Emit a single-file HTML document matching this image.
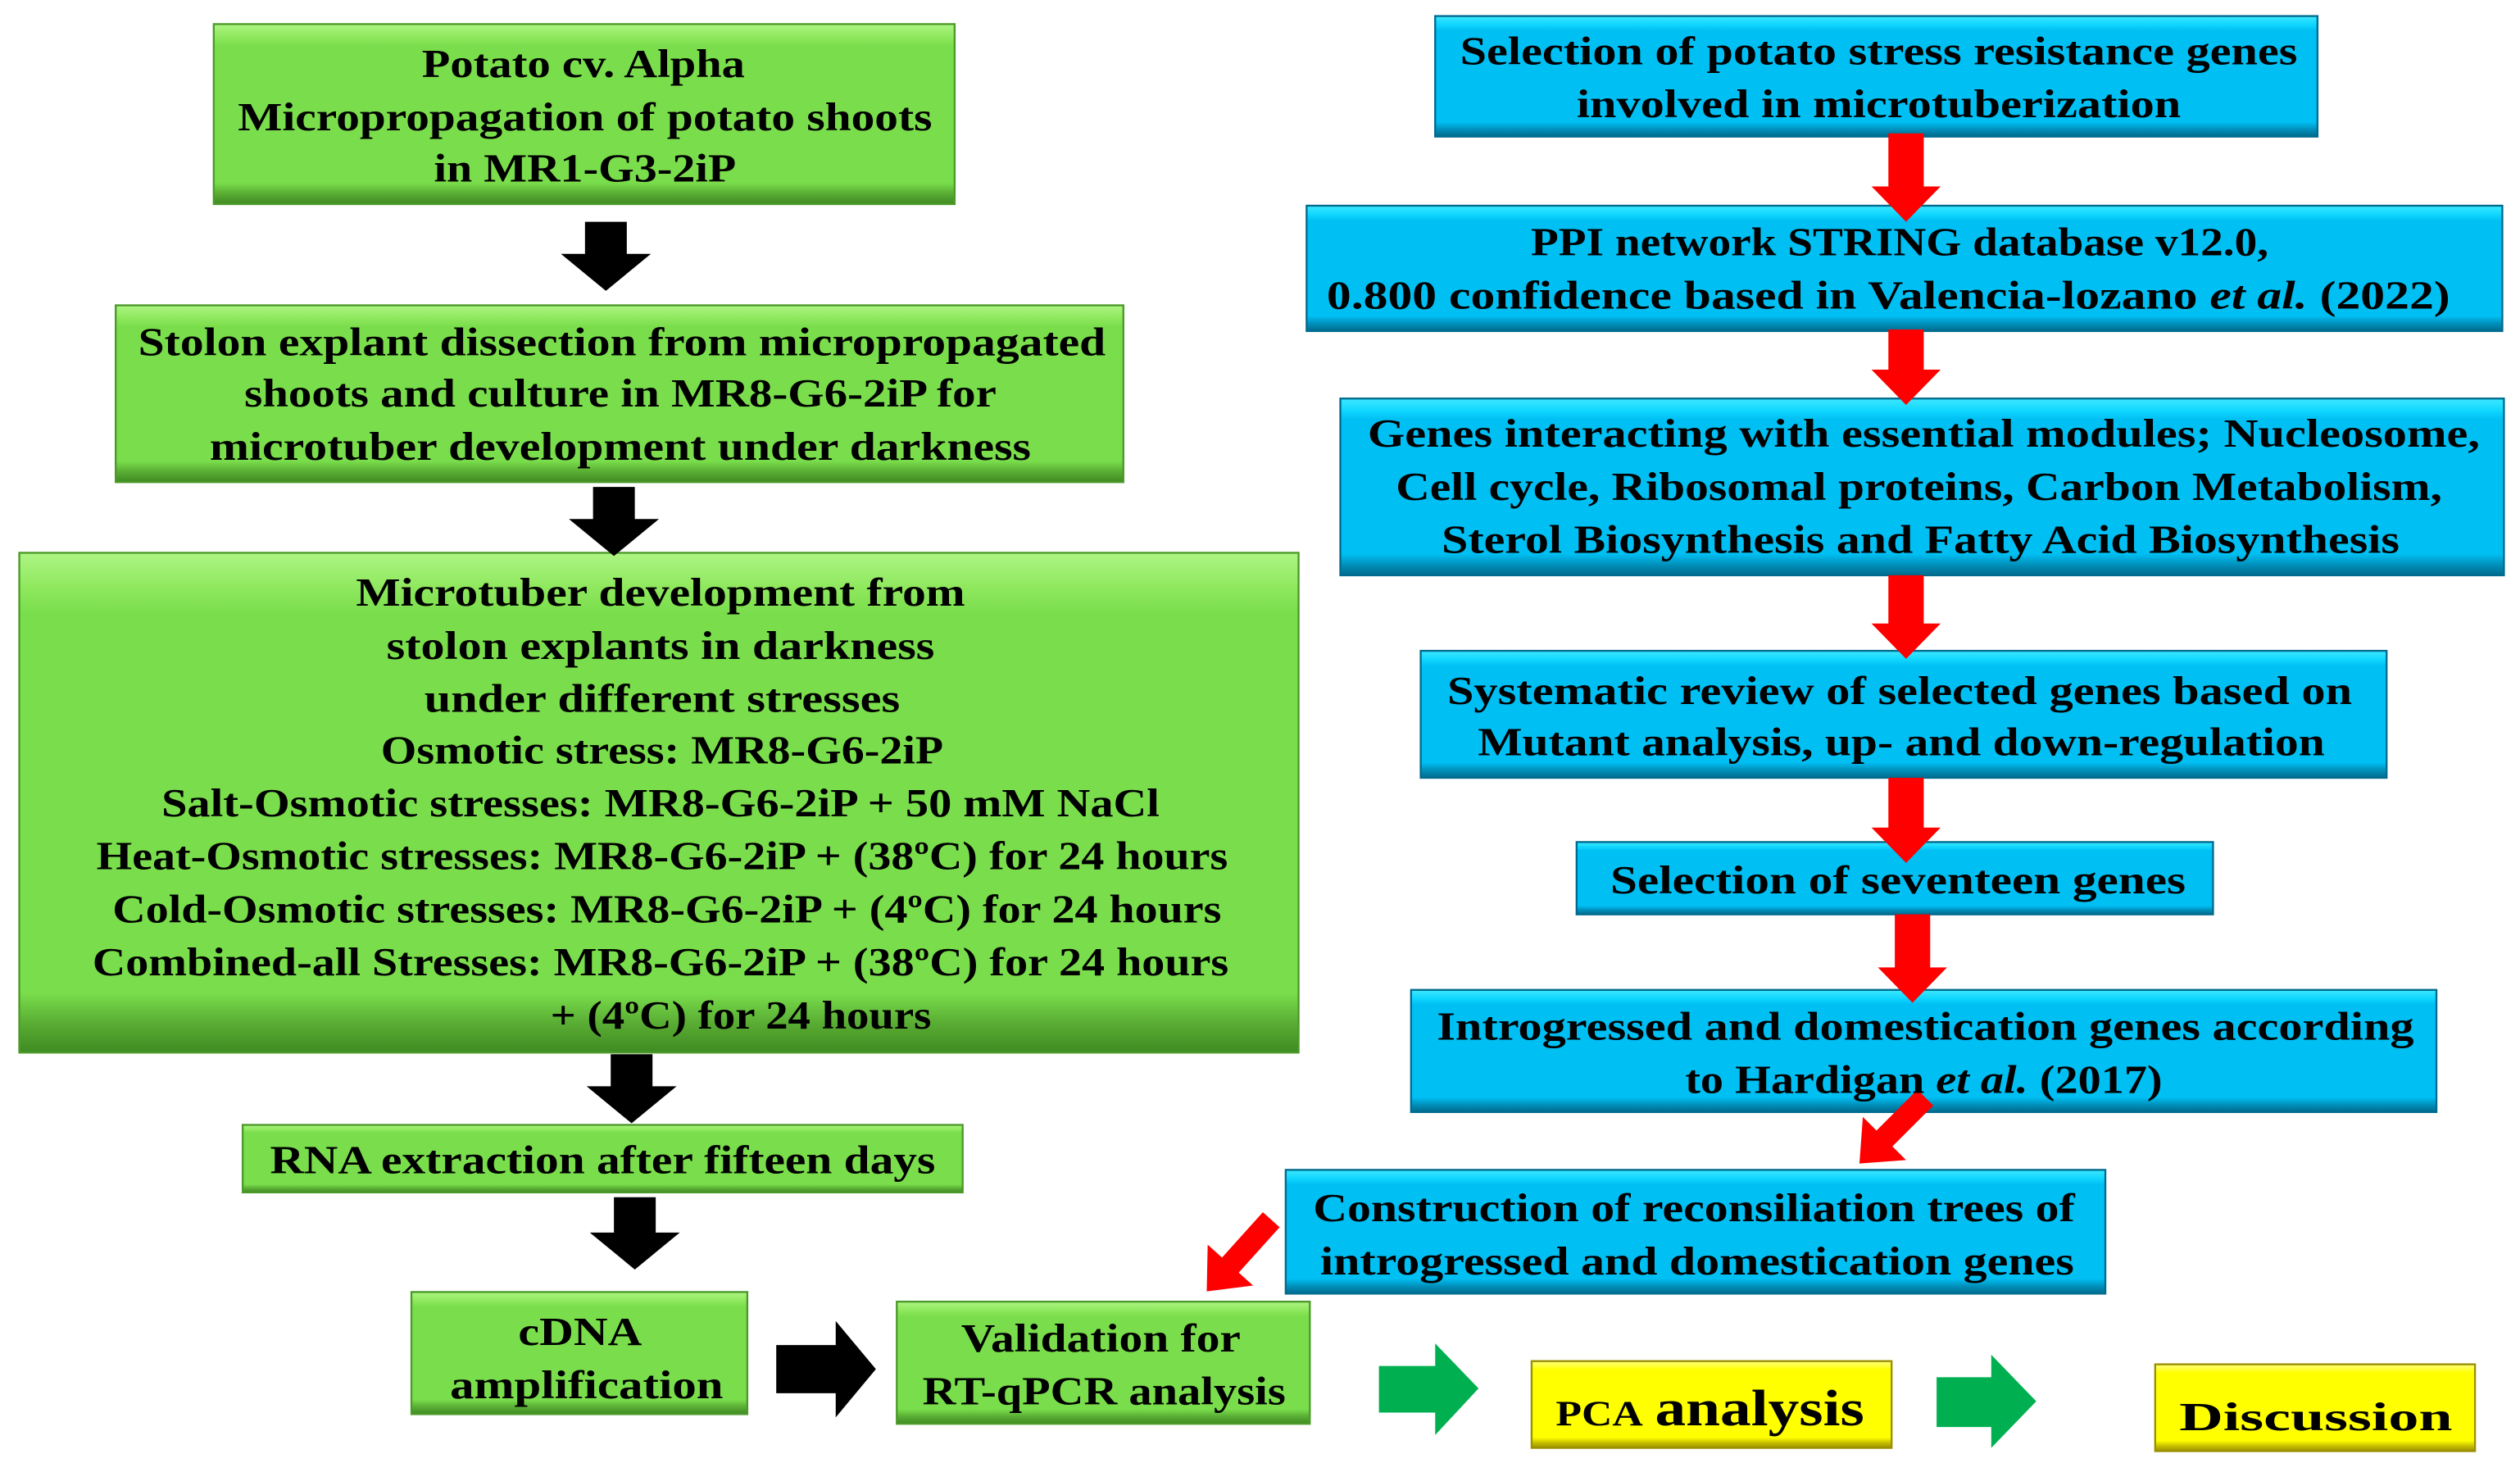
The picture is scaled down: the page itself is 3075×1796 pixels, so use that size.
<!DOCTYPE html>
<html><head><meta charset="utf-8"><style>
html,body{margin:0;padding:0;background:#fff;}
svg{display:block;}
text{font-family:"Liberation Serif",serif;font-weight:bold;font-size:25px;fill:#000;}
</style></head><body>
<svg width="3075" height="1796" viewBox="0 0 1568 916" preserveAspectRatio="none" xmlns="http://www.w3.org/2000/svg">
<defs>
<linearGradient id="gG" x1="0" y1="0" x2="0" y2="1">
<stop offset="0" stop-color="#aef584"/><stop offset="0.07" stop-color="#8fe85e"/><stop offset="0.12" stop-color="#7ade4c"/><stop offset="0.88" stop-color="#7ade4c"/><stop offset="0.94" stop-color="#5aae34"/><stop offset="1" stop-color="#3f8a22"/></linearGradient>
<linearGradient id="gB" x1="0" y1="0" x2="0" y2="1">
<stop offset="0" stop-color="#3de8ff"/><stop offset="0.07" stop-color="#10d6ff"/><stop offset="0.12" stop-color="#00bff3"/><stop offset="0.88" stop-color="#00bff3"/><stop offset="0.94" stop-color="#0090bb"/><stop offset="1" stop-color="#006b8e"/></linearGradient>
<linearGradient id="gY" x1="0" y1="0" x2="0" y2="1">
<stop offset="0" stop-color="#ffff80"/><stop offset="0.1" stop-color="#ffff00"/><stop offset="0.88" stop-color="#ffff00"/><stop offset="0.94" stop-color="#c8c000"/><stop offset="1" stop-color="#9a9000"/></linearGradient>
</defs>

<g stroke-width="1.2">
<rect x="133" y="15" width="461" height="112" fill="url(#gG)" stroke="#4c9a2a"/>
<rect x="72" y="190" width="627" height="110" fill="url(#gG)" stroke="#4c9a2a"/>
<rect x="12" y="344" width="796" height="311" fill="url(#gG)" stroke="#4c9a2a"/>
<rect x="151" y="700" width="448" height="42" fill="url(#gG)" stroke="#4c9a2a"/>
<rect x="256" y="804" width="209" height="76" fill="url(#gG)" stroke="#4c9a2a"/>
<rect x="558" y="810" width="257" height="76" fill="url(#gG)" stroke="#4c9a2a"/>
<rect x="953" y="847" width="224" height="54" fill="url(#gY)" stroke="#9a9000"/>
<rect x="1341" y="849" width="199" height="54" fill="url(#gY)" stroke="#9a9000"/>
<rect x="893" y="10" width="549" height="75" fill="url(#gB)" stroke="#006b8e"/>
<rect x="813" y="128" width="744" height="78" fill="url(#gB)" stroke="#006b8e"/>
<rect x="834" y="248" width="724" height="110" fill="url(#gB)" stroke="#006b8e"/>
<rect x="884" y="405" width="601" height="79" fill="url(#gB)" stroke="#006b8e"/>
<rect x="981" y="524" width="396" height="45" fill="url(#gB)" stroke="#006b8e"/>
<rect x="878" y="616" width="638" height="76" fill="url(#gB)" stroke="#006b8e"/>
<rect x="800" y="728" width="510" height="77" fill="url(#gB)" stroke="#006b8e"/>
</g>

<g fill="#000">
<path d="M0,-13 L20,-13 L20,-28 L43,0 L20,28 L20,13 L0,13 Z" transform="translate(377,138) rotate(90)"/>
<path d="M0,-13 L20,-13 L20,-28 L43,0 L20,28 L20,13 L0,13 Z" transform="translate(382,303) rotate(90)"/>
<path d="M0,-13 L20,-13 L20,-28 L43,0 L20,28 L20,13 L0,13 Z" transform="translate(393,656) rotate(90)"/>
<path d="M0,-13 L22,-13 L22,-28 L45,0 L22,28 L22,13 L0,13 Z" transform="translate(395,745) rotate(90)"/>
<path d="M0,-15 L37,-15 L37,-30 L62,0 L37,30 L37,15 L0,15 Z" transform="translate(483,852)"/>
</g>
<g fill="#ff0000">
<path d="M0,-11 L33,-11 L33,-21.5 L55,0 L33,21.5 L33,11 L0,11 Z" transform="translate(1186,83) rotate(90)"/>
<path d="M0,-11 L25,-11 L25,-21.5 L47,0 L25,21.5 L25,11 L0,11 Z" transform="translate(1186,205) rotate(90)"/>
<path d="M0,-11 L30,-11 L30,-21.5 L52,0 L30,21.5 L30,11 L0,11 Z" transform="translate(1186,358) rotate(90)"/>
<path d="M0,-11 L31,-11 L31,-21.5 L53,0 L31,21.5 L31,11 L0,11 Z" transform="translate(1186,484) rotate(90)"/>
<path d="M0,-11 L33,-11 L33,-21.5 L55,0 L33,21.5 L33,11 L0,11 Z" transform="translate(1190,569) rotate(90)"/>
<path d="M0,-7 L36,-7 L36,-19 L58,0 L36,19 L36,7 L0,7 Z" transform="translate(1198,683) rotate(135)"/>
<path d="M0,-7 L38,-7 L38,-19 L60,0 L38,19 L38,7 L0,7 Z" transform="translate(791,759) rotate(132)"/>
</g>
<g fill="#00b050">
<path d="M858,850 L893,850 L893,836 L920,864 L893,893 L893,879 L858,879 Z"/>
<path d="M1205,857 L1239,857 L1239,843 L1267,872 L1239,901 L1239,888 L1205,888 Z"/>
</g>

<g text-anchor="middle">
<text x="363" y="48" textLength="201" lengthAdjust="spacingAndGlyphs">Potato cv. Alpha</text>
<text x="364" y="81" textLength="432" lengthAdjust="spacingAndGlyphs">Micropropagation of potato shoots</text>
<text x="364" y="113" textLength="188" lengthAdjust="spacingAndGlyphs">in MR1-G3-2iP</text>

<text x="387" y="221" textLength="602" lengthAdjust="spacingAndGlyphs">Stolon explant dissection from micropropagated</text>
<text x="386" y="253" textLength="468" lengthAdjust="spacingAndGlyphs">shoots and culture in MR8-G6-2iP for</text>
<text x="386" y="286" textLength="511" lengthAdjust="spacingAndGlyphs">microtuber development under darkness</text>

<text x="411" y="377" textLength="379" lengthAdjust="spacingAndGlyphs">Microtuber development from</text>
<text x="411" y="410" textLength="341" lengthAdjust="spacingAndGlyphs">stolon explants in darkness</text>
<text x="412" y="443" textLength="296" lengthAdjust="spacingAndGlyphs">under different stresses</text>
<text x="412" y="475" textLength="350" lengthAdjust="spacingAndGlyphs">Osmotic stress: MR8-G6-2iP</text>
<text x="411" y="508" textLength="621" lengthAdjust="spacingAndGlyphs">Salt-Osmotic stresses: MR8-G6-2iP + 50 mM NaCl</text>
<text x="412" y="541" textLength="704" lengthAdjust="spacingAndGlyphs">Heat-Osmotic stresses: MR8-G6-2iP + (38ºC) for 24 hours</text>
<text x="415" y="574" textLength="690" lengthAdjust="spacingAndGlyphs">Cold-Osmotic stresses: MR8-G6-2iP + (4ºC) for 24 hours</text>
<text x="411" y="607" textLength="707" lengthAdjust="spacingAndGlyphs">Combined-all Stresses: MR8-G6-2iP + (38ºC) for 24 hours</text>
<text x="461" y="640" textLength="237" lengthAdjust="spacingAndGlyphs">+ (4ºC) for 24 hours</text>

<text x="375" y="730" textLength="414" lengthAdjust="spacingAndGlyphs">RNA extraction after fifteen days</text>
<text x="361" y="837" textLength="77" lengthAdjust="spacingAndGlyphs">cDNA</text>
<text x="365" y="870" textLength="170" lengthAdjust="spacingAndGlyphs">amplification</text>
<text x="685" y="841" textLength="174" lengthAdjust="spacingAndGlyphs">Validation for</text>
<text x="687" y="874" textLength="226" lengthAdjust="spacingAndGlyphs">RT-qPCR analysis</text>

<text x="1064" y="887" textLength="192" lengthAdjust="spacingAndGlyphs"><tspan font-size="22">PCA</tspan> <tspan font-size="32">analysis</tspan></text>
<text x="1441" y="890" font-size="37" textLength="170" lengthAdjust="spacingAndGlyphs">Discussion</text>

<text x="1169" y="40" textLength="521" lengthAdjust="spacingAndGlyphs">Selection of potato stress resistance genes</text>
<text x="1169" y="73" textLength="376" lengthAdjust="spacingAndGlyphs">involved in microtuberization</text>
<text x="1182" y="159" textLength="459" lengthAdjust="spacingAndGlyphs">PPI network STRING database v12.0,</text>
<text x="1175" y="192" textLength="699" lengthAdjust="spacingAndGlyphs">0.800 confidence based in Valencia-lozano <tspan font-style="italic">et al.</tspan> (2022)</text>
<text x="1197" y="278" textLength="692" lengthAdjust="spacingAndGlyphs">Genes interacting with essential modules; Nucleosome,</text>
<text x="1194" y="311" textLength="651" lengthAdjust="spacingAndGlyphs">Cell cycle, Ribosomal proteins, Carbon Metabolism,</text>
<text x="1195" y="344" textLength="596" lengthAdjust="spacingAndGlyphs">Sterol Biosynthesis and Fatty Acid Biosynthesis</text>
<text x="1182" y="438" textLength="563" lengthAdjust="spacingAndGlyphs">Systematic review of selected genes based on</text>
<text x="1183" y="470" textLength="527" lengthAdjust="spacingAndGlyphs">Mutant analysis, up- and down-regulation</text>
<text x="1181" y="556" textLength="358" lengthAdjust="spacingAndGlyphs">Selection of seventeen genes</text>
<text x="1198" y="647" textLength="608" lengthAdjust="spacingAndGlyphs">Introgressed  and domestication genes according</text>
<text x="1197" y="680" textLength="297" lengthAdjust="spacingAndGlyphs">to Hardigan <tspan font-style="italic">et al.</tspan> (2017)</text>
<text x="1054" y="760" textLength="474" lengthAdjust="spacingAndGlyphs">Construction of reconsiliation trees of</text>
<text x="1056" y="793" textLength="469" lengthAdjust="spacingAndGlyphs">introgressed and domestication genes</text>
</g>
</svg>
</body></html>
